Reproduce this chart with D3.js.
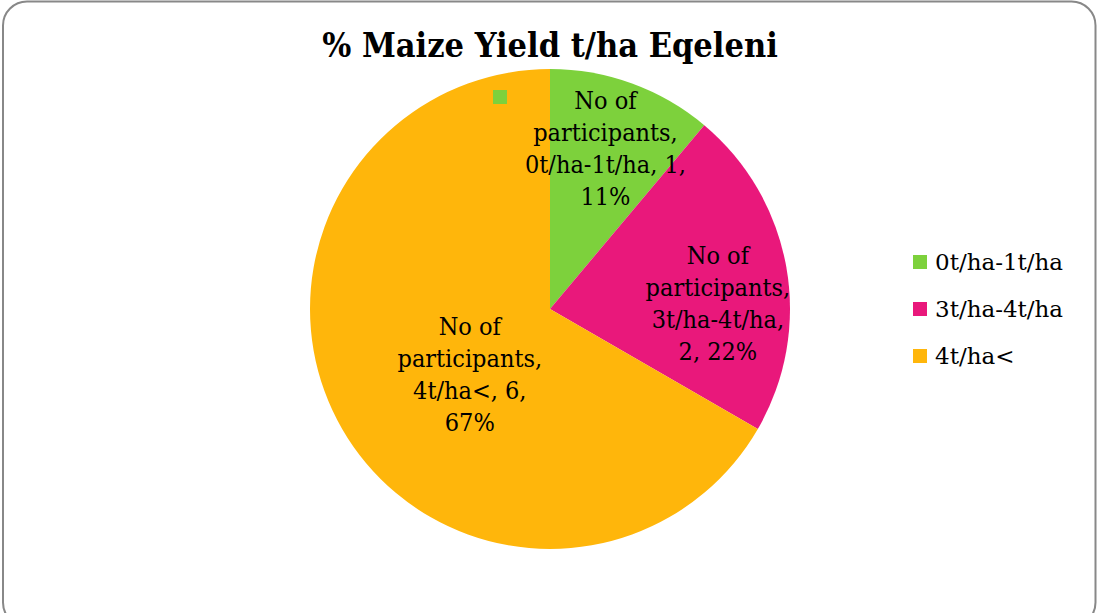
<!DOCTYPE html>
<html>
<head>
<meta charset="utf-8">
<script src="https://cdn.jsdelivr.net/npm/d3@7"></script>
<style>
  html, body { margin: 0; padding: 0; background: #fff; }
  svg { display: block; }
  text { font-family: "DejaVu Serif", "Liberation Serif", serif; }
</style>
</head>
<body>
<div id="chart"></div>
<script>
// data
let categories = ['0t/ha-1t/ha', '3t/ha-4t/ha', '4t/ha<']
let participants = [1, 2, 6]
let percents = ['11%', '22%', '67%']
let colors = ['#7DD13C', '#E9187B', '#FFB60B']
let chartTitle = '% Maize Yield t/ha Eqeleni'

let width = 1097
let height = 613
let cx = 550
let cy = 309
let radius = 240

let svg = d3.select('#chart').append('svg').attr('width', width).attr('height', height)

// 外框
svg.append('rect')
  .attr('x', 3).attr('y', 1.5)
  .attr('width', width - 4.5).attr('height', height + 12)
  .attr('rx', 24).attr('ry', 24)
  .attr('fill', '#fff').attr('stroke', '#888').attr('stroke-width', 2)

// 标题
svg.append('text')
  .text(chartTitle)
  .attr('x', cx).attr('y', 57)
  .attr('text-anchor', 'middle')
  .attr('font-weight', 'bold')
  .attr('font-size', 34)
  .style('font-stretch', 'condensed')
  .attr('fill', '#000')

let pie = d3.pie().sort(null).value(d => d)
let arcs = pie(participants)
let arc = d3.arc().innerRadius(0).outerRadius(radius)

let g = svg.append('g').attr('transform', 'translate(' + cx + ',' + cy + ')')
g.selectAll('path').data(arcs).enter().append('path')
  .attr('d', arc)
  .attr('fill', (d, i) => colors[i])

// 标签位置 (半径比例 + 角度修正)
let labelR = [0.71, 0.70, 0.43]
let labelAngleShift = [-1, 8, -9]
let lineH = 32
arcs.forEach((d, i) => {
  let a = ((d.startAngle + d.endAngle) / 2) + labelAngleShift[i] * Math.PI / 180
  let r = radius * labelR[i]
  let x = Math.sin(a) * r
  let y = -Math.cos(a) * r
  let lines
  if (i === 1) lines = ['No of', 'participants,', categories[i] + ',', participants[i] + ', ' + percents[i]]
  else lines = ['No of', 'participants,', categories[i] + ', ' + participants[i] + ',', percents[i]]
  let t = g.append('text')
    .attr('text-anchor', 'middle')
    .attr('font-size', 25)
    .style('font-stretch', 'condensed')
    .attr('fill', '#000')
  lines.forEach((s, k) => {
    t.append('tspan')
      .attr('x', x)
      .attr('y', y + (k - (lines.length - 1) / 2) * lineH + 9)
      .text(s)
  })
})

// 多余的小方块
svg.append('rect')
  .attr('x', 493).attr('y', 90).attr('width', 14).attr('height', 14)
  .attr('fill', colors[0])

// 图例
let legendY = d3.scalePoint().domain(categories).range([262, 356])
let legend = svg.append('g')
categories.forEach((c, i) => {
  legend.append('rect')
    .attr('x', 913).attr('y', legendY(c) - 7)
    .attr('width', 14).attr('height', 14)
    .attr('fill', colors[i])
  legend.append('text')
    .attr('x', 935).attr('y', legendY(c) + 8)
    .attr('font-size', 23)
    .attr('fill', '#000')
    .text(c)
})
</script>
</body>
</html>
